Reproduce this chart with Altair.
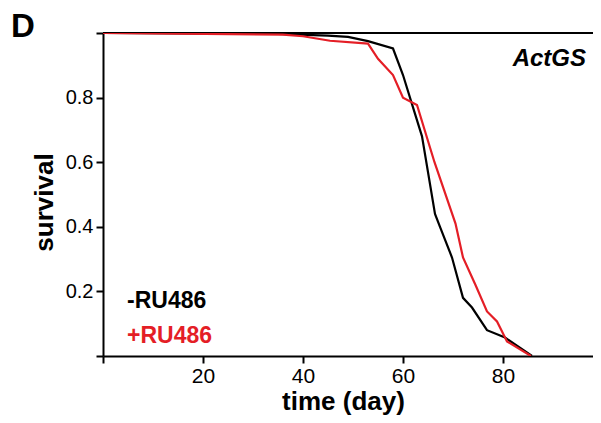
import altair as alt
import pandas as pd

# -RU486 (black)
days_ctrl = [0, 35, 45, 49, 53, 58, 60, 61.8, 63.8, 66.4, 67.4, 69.8, 72, 73.8, 76.8, 80.4, 85.8]
surv_ctrl = [1.0, 0.997, 0.992, 0.988, 0.975, 0.952, 0.87, 0.78, 0.68, 0.44, 0.40, 0.305, 0.18, 0.15, 0.08, 0.057, 0.0]
# +RU486 (red)
days_ru = [0, 36, 40, 45.4, 53, 55, 58, 60, 62.8, 66.3, 70.5, 72, 74.5, 76.8, 78.8, 80.8, 85.6]
surv_ru = [1.0, 0.995, 0.99, 0.976, 0.967, 0.92, 0.87, 0.80, 0.777, 0.60, 0.41, 0.305, 0.22, 0.138, 0.107, 0.045, 0.0]

legend_labels = ["-RU486", "+RU486"]
legend_colors = ["#000000", "#e41e26"]
panel_letter = "D"
genotype = "ActGS"

FONT = "Liberation Sans"
X_MAX = 98.0

df = pd.concat([
    pd.DataFrame({"day": days_ctrl, "survival": surv_ctrl, "group": legend_labels[0]}),
    pd.DataFrame({"day": days_ru, "survival": surv_ru, "group": legend_labels[1]}),
])

xscale = alt.Scale(domain=[0, X_MAX], nice=False, zero=False)
yscale = alt.Scale(domain=[0, 1], nice=False)

xaxis = alt.Axis(
    values=[0, 20, 40, 60, 80], labelExpr="datum.value == 0 ? '' : datum.label",
    grid=False, tickSize=7, tickWidth=2, tickColor="black", domainColor="black",
    domainWidth=2, labelFont=FONT, labelFontSize=21, labelColor="black", labelPadding=2,
    title="time (day)", titleFont=FONT, titleFontSize=26, titleFontWeight="bold",
    titleColor="black", titleX=240, titleY=53, titleBaseline="alphabetic", titleAnchor="middle",
    labelFlush=False,
)
yaxis = alt.Axis(
    values=[0, 0.2, 0.4, 0.6, 0.8, 1.0],
    labelExpr="(datum.value == 0 || datum.value == 1) ? '' : format(datum.value, '.1f')",
    grid=False, tickSize=7, tickWidth=2, tickColor="black", domainColor="black",
    domainWidth=2, labelFont=FONT, labelFontSize=20, labelColor="black", labelPadding=3,
    title="survival", titleFont=FONT, titleFontSize=26, titleFontWeight="bold",
    titleColor="black", titleX=-51, titleY=169, titleAngle=-90, titleBaseline="alphabetic",
    titleAlign="center", labelFlush=False,
)

lines = alt.Chart(df).mark_line(strokeWidth=2.2, clip=True).encode(
    x=alt.X("day:Q", scale=xscale, axis=xaxis),
    y=alt.Y("survival:Q", scale=yscale, axis=yaxis),
    color=alt.Color("group:N", scale=alt.Scale(domain=legend_labels, range=legend_colors), legend=None),
    order=alt.Order("day:Q"),
)

top_rule = alt.Chart(pd.DataFrame({"y": [1.0], "x1": [0.0], "x2": [X_MAX]})).mark_rule(
    color="black", strokeWidth=2.2
).encode(x=alt.X("x1:Q", scale=xscale), x2="x2:Q", y=alt.Y("y:Q", scale=yscale))

leg_df = pd.DataFrame({"label": legend_labels, "color": legend_colors, "ypix": [275, 310]})
legend_text = alt.Chart(leg_df).mark_text(
    font=FONT, fontSize=23, fontWeight="bold", align="left", baseline="alphabetic"
).encode(
    x=alt.value(24), y=alt.Y("ypix:Q", scale=None), text="label:N",
    color=alt.Color("color:N", scale=None),
)

geno = alt.Chart(pd.DataFrame({"t": [genotype]})).mark_text(
    font=FONT, fontSize=24, fontWeight="bold", fontStyle="italic", align="right",
    baseline="alphabetic", color="black"
).encode(x=alt.value(483), y=alt.value(33), text="t:N")

letter = alt.Chart(pd.DataFrame({"t": [panel_letter]})).mark_text(
    font=FONT, fontSize=33, fontWeight="bold", align="left", baseline="alphabetic", color="black"
).encode(x=alt.value(-92), y=alt.value(4), text="t:N")

chart = alt.layer(top_rule, lines, legend_text, geno, letter).properties(
    width=490, height=323,
    autosize=alt.AutoSizeParams(type="none"),
    padding={"left": 95, "top": 25, "right": 0, "bottom": 59},
).configure_view(stroke=None).configure(background="white")

chart.save("out.html", embed_options={"renderer": "svg", "actions": False})
